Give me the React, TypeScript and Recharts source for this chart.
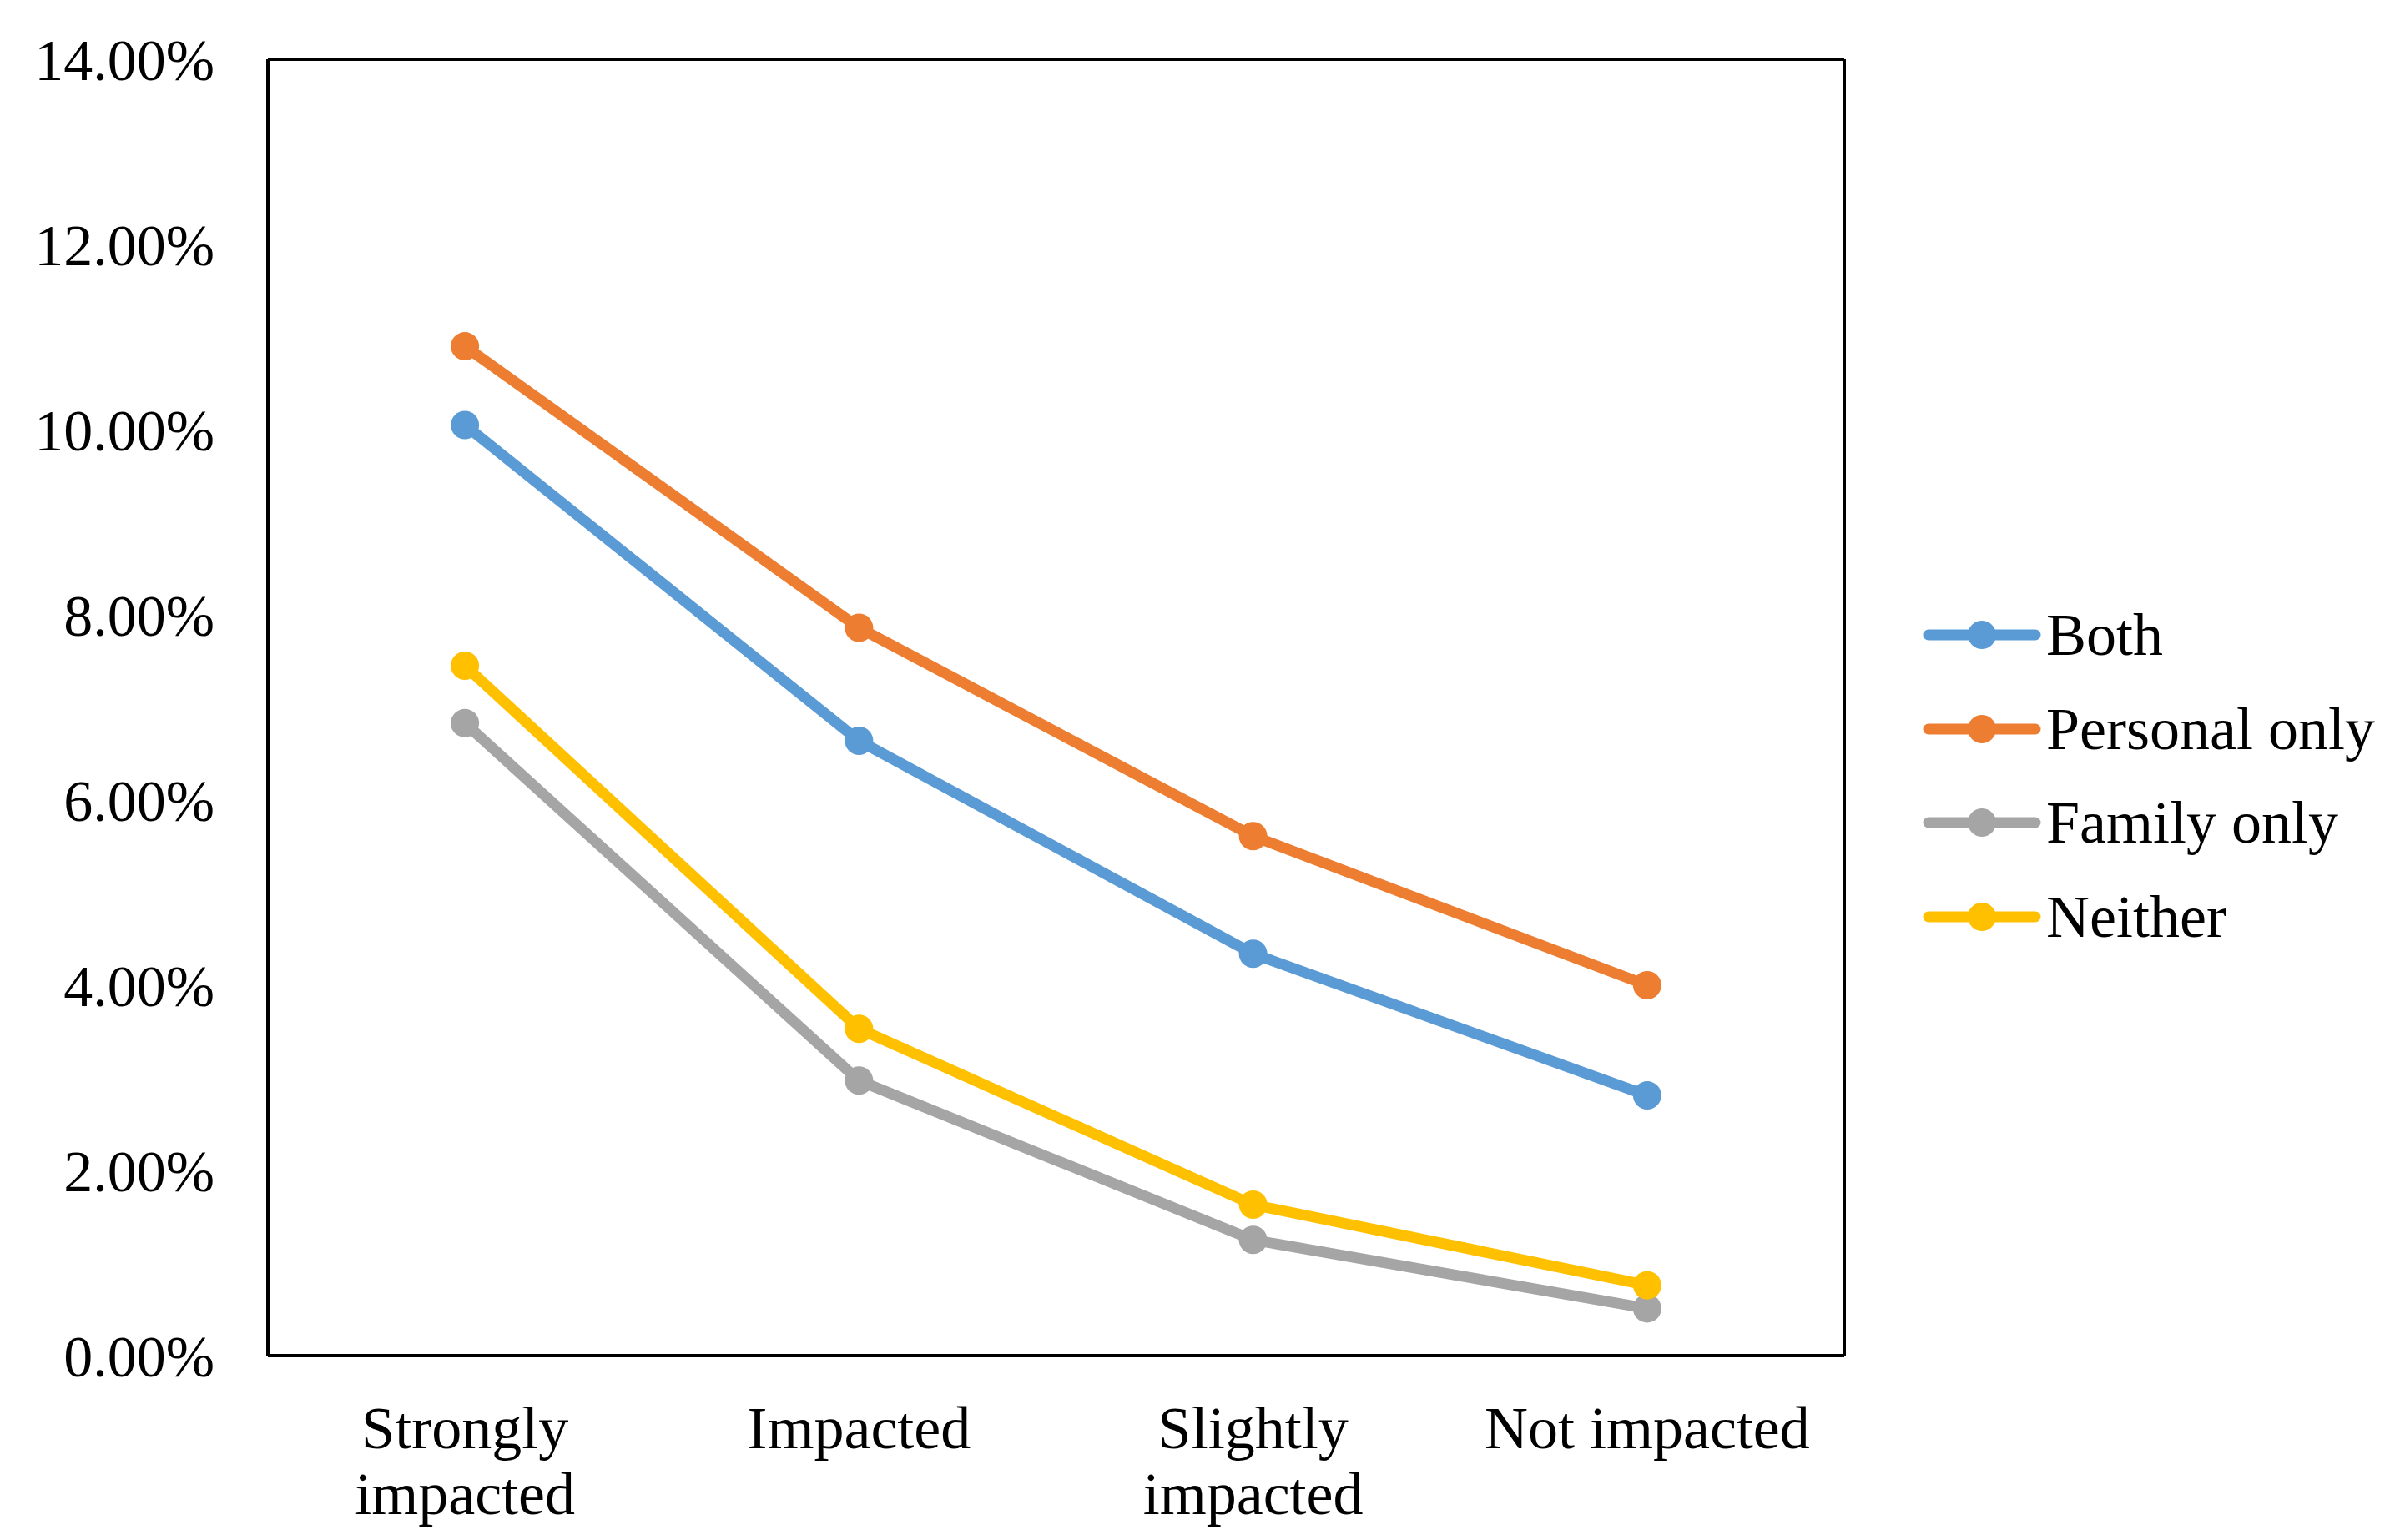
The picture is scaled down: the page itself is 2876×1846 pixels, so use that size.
import { LineChart, Line, XAxis, YAxis, Legend } from 'recharts';

const categories = ['Strongly impacted', 'Impacted', 'Slightly impacted', 'Not impacted'];
const tickLines = [['Strongly', 'impacted'], ['Impacted'], ['Slightly', 'impacted'], ['Not impacted']];

const both = [10.05, 6.64, 4.34, 2.81];
const personalOnly = [10.9, 7.86, 5.61, 4.0];
const familyOnly = [6.83, 2.97, 1.25, 0.51];
const neither = [7.45, 3.53, 1.63, 0.76];

const yTicks = [0, 2, 4, 6, 8, 10, 12, 14];

const series = [
    { key: 'Both', values: both, color: '#5B9BD5' },
    { key: 'Personal only', values: personalOnly, color: '#ED7D31' },
    { key: 'Family only', values: familyOnly, color: '#A5A5A5' },
    { key: 'Neither', values: neither, color: '#FFC000' },
];

const data = categories.map((c, i) => {
    const row: Record<string, string | number> = { category: c };
    series.forEach((s) => { row[s.key] = s.values[i]; });
    return row;
});

const FONT = '"Liberation Serif", "Times New Roman", serif';
const BORDER = { stroke: '#000', strokeWidth: 4 };

function CategoryTick(props: any) {
    const { x, y, index } = props;
    const lines = tickLines[index] || [];
    return (
        <g>
            {lines.map((ln, i) => (
                <text key={i} x={x} y={y + 103 + i * 79} textAnchor="middle" fill="#000" fontSize={72} fontFamily={FONT}>
                    {ln}
                </text>
            ))}
        </g>
    );
}

function LegendBox() {
    return (
        <div style={{ fontFamily: FONT, fontSize: 72, color: '#000' }}>
            {series.map((s) => (
                <div key={s.key} style={{ display: 'flex', alignItems: 'center', height: 112.6 }}>
                    <svg width={142} height={40} style={{ flex: 'none' }}>
                        <line x1={7} y1={20} x2={135} y2={20} stroke={s.color} strokeWidth={13} strokeLinecap="round" />
                        <circle cx={71} cy={20} r={17} fill={s.color} />
                    </svg>
                    <span style={{ marginLeft: 6, lineHeight: 1 }}>{s.key}</span>
                </div>
            ))}
        </div>
    );
}

export default function App() {
    return (
        <LineChart width={2868} height={1830} data={data} margin={{ top: 62, right: 665, bottom: 0, left: 0 }}>
            <XAxis
                dataKey="category"
                scale="band"
                height={213}
                axisLine={BORDER}
                tickLine={false}
                tick={<CategoryTick />}
                interval={0}
            />
            <XAxis xAxisId="top" dataKey="category" scale="band" orientation="top" height={1} axisLine={BORDER} tick={false} tickLine={false} />
            <YAxis
                domain={[0, 14]}
                ticks={yTicks}
                width={313}
                axisLine={BORDER}
                tickLine={false}
                tickSize={0}
                tickMargin={64}
                tickFormatter={(v: number) => `${v.toFixed(2)}%`}
                tick={{ fill: '#000', fontSize: 70, fontFamily: FONT }}
            />
            <YAxis yAxisId="right" orientation="right" domain={[0, 14]} width={1} axisLine={BORDER} tick={false} tickLine={false} />
            <Legend
                layout="horizontal"
                align="center"
                verticalAlign="middle"
                content={<LegendBox />}
                wrapperStyle={{ left: 2296, top: 697, width: 570, height: 460 }}
            />
            {series.map((s) => (
                <Line
                    key={s.key}
                    dataKey={s.key}
                    stroke={s.color}
                    strokeWidth={13}
                    dot={{ r: 17, fill: s.color, stroke: s.color, strokeWidth: 0 }}
                    activeDot={false}
                    isAnimationActive={false}
                />
            ))}
        </LineChart>
    );
}
